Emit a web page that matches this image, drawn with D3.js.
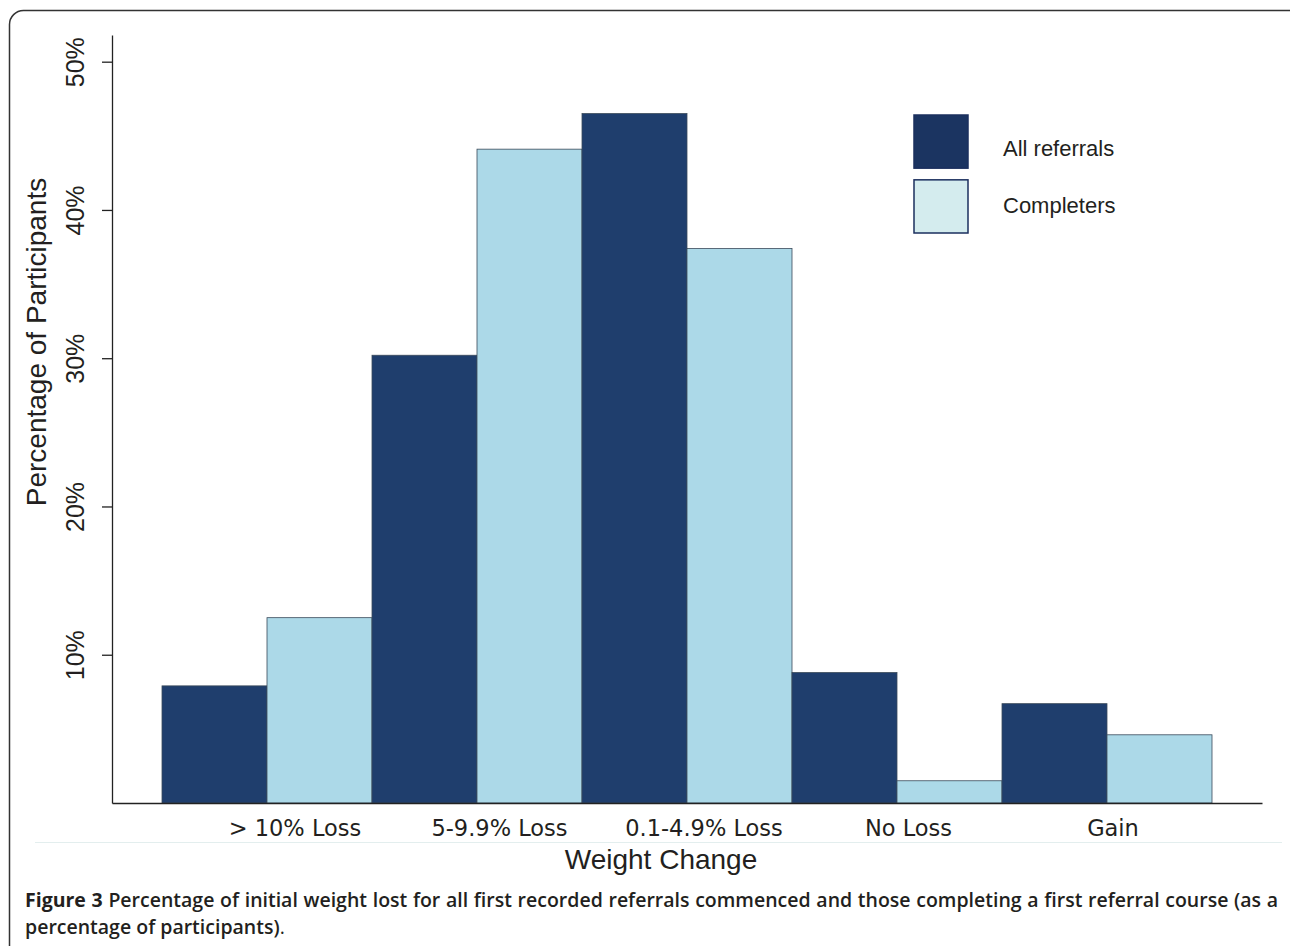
<!DOCTYPE html>
<html>
<head>
<meta charset="utf-8">
<script src="https://cdn.jsdelivr.net/npm/d3@7/dist/d3.min.js"></script>
<style>
  html, body { margin: 0; padding: 0; background: #fff; }
  svg { display: block; }
</style>
</head>
<body>
<svg id="chart" width="1290" height="946"></svg>
<script>
// ---- data ----
const categories = ["> 10% Loss", "5-9.9% Loss", "0.1-4.9% Loss", "No Loss", "Gain"];
const seriesNames = ["All referrals", "Completers"];
const allReferrals = [7.9, 30.2, 46.5, 8.8, 6.7];
const completers = [12.5, 44.1, 37.4, 1.5, 4.6];
const yTickValues = [10, 20, 30, 40, 50];
const yTickLabels = ["10%", "20%", "30%", "40%", "50%"];
const yTitle = "Percentage of Participants";
const xTitle = "Weight Change";
const captionBold = "Figure 3";
const captionLine1 = " Percentage of initial weight lost for all first recorded referrals commenced and those completing a first referral course (as a";
const captionLine2 = "percentage of participants)";

const svg = d3.select("#chart");
const textColor = "#231f20";
const darkFill = "#1f3e6d";
const lightFill = "#acd9e8";

// frame
svg.append("rect")
  .attr("x", 9.5).attr("y", 10.5).attr("width", 1300).attr("height", 960)
  .attr("rx", 14).attr("ry", 14)
  .attr("fill", "none").attr("stroke", "#333").attr("stroke-width", 1.5);

// scales
const x = d3.scaleBand().domain(categories).range([112, 1262])
  .paddingInner(0).paddingOuter((1150 / 210 - 5) / 2);
const xs = d3.scaleBand().domain(seriesNames).range([0, x.bandwidth()]);
const y = d3.scaleLinear().domain([0, 51.8]).range([803, 35]);
const xLabel = d3.scalePoint().domain(categories).range([295, 1113]);
const color = d3.scaleOrdinal().domain(seriesNames).range([darkFill, lightFill]);

const rows = categories.map((c, i) => ({ cat: c, vals: [
  { s: seriesNames[0], v: allReferrals[i] },
  { s: seriesNames[1], v: completers[i] }
]}));

// bars
const g = svg.append("g");
g.selectAll("g.grp").data(rows).join("g")
  .attr("class", "grp")
  .attr("transform", d => `translate(${x(d.cat)},0)`)
  .selectAll("rect").data(d => d.vals).join("rect")
  .attr("x", d => xs(d.s))
  .attr("y", d => y(d.v))
  .attr("width", xs.bandwidth())
  .attr("height", d => y(0) - y(d.v))
  .attr("fill", d => color(d.s))
  .attr("stroke", "#3a4a5a").attr("stroke-width", 0.8);

// y axis
const yAxis = d3.axisLeft(y).tickValues(yTickValues)
  .tickFormat((d, i) => yTickLabels[i]).tickSize(10).tickSizeOuter(0);
const ya = svg.append("g").attr("transform", "translate(112,0)").call(yAxis);
ya.select(".domain").attr("stroke", "#222").attr("stroke-width", 1.3);
ya.selectAll(".tick line").attr("stroke", "#222").attr("stroke-width", 1.3);
ya.selectAll(".tick text")
  .attr("font-family", "Liberation Sans, Arial, sans-serif")
  .attr("font-size", 25).attr("fill", textColor)
  .attr("text-anchor", "middle")
  .attr("transform", "translate(-37,0) rotate(-90)")
  .attr("x", 0).attr("y", 0).attr("dy", "0.35em");

// x axis baseline
const xa = svg.append("g").attr("transform", `translate(0,${y(0)})`)
  .call(d3.axisBottom(x).tickSize(0).tickFormat(""));
xa.select(".domain").attr("stroke", "#222").attr("stroke-width", 1.3);

// x tick labels
svg.append("g").selectAll("text").data(categories).join("text")
  .attr("x", d => xLabel(d)).attr("y", 836)
  .attr("text-anchor", "middle")
  .attr("font-family", "DejaVu Sans, Verdana, sans-serif")
  .attr("font-size", 22.5).attr("fill", textColor)
  .text(d => d);

// faint separator line
svg.append("line").attr("x1", 35).attr("x2", 1282).attr("y1", 842.5).attr("y2", 842.5)
  .attr("stroke", "#e3eeee").attr("stroke-width", 1);

// axis titles
svg.append("text").attr("x", 661).attr("y", 869).attr("text-anchor", "middle")
  .attr("font-family", "Liberation Sans, Arial, sans-serif").attr("font-size", 28)
  .attr("fill", textColor).text(xTitle);
svg.append("text").attr("transform", "translate(46,342) rotate(-90)")
  .attr("text-anchor", "middle")
  .attr("font-family", "Liberation Sans, Arial, sans-serif").attr("font-size", 28)
  .attr("fill", textColor).text(yTitle);

// legend
const leg = svg.append("g");
const legY = d3.scaleBand().domain(seriesNames).range([115, 233]).paddingInner(0.18);
const legTextY = d3.scalePoint().domain(seriesNames).range([148, 205]);
leg.selectAll("rect").data(seriesNames).join("rect")
  .attr("x", 914).attr("y", d => legY(d)).attr("width", 54).attr("height", legY.bandwidth())
  .attr("fill", (d, i) => i === 0 ? "#1b3461" : "#d4ecee")
  .attr("stroke", "#1b2f5e").attr("stroke-width", 1.5);
leg.selectAll("text").data(seriesNames).join("text")
  .attr("x", 1003).attr("y", d => legTextY(d))
  .attr("dy", "0.35em")
  .attr("font-family", "Liberation Sans, Arial, sans-serif").attr("font-size", 22)
  .attr("fill", textColor).text(d => d);

// caption
const capFont = "Open Sans, Noto Sans, sans-serif";
const cap1 = svg.append("text").attr("x", 25).attr("y", 907)
  .attr("font-family", capFont).attr("font-size", 19.5).attr("fill", textColor)
  .attr("font-weight", 600);
cap1.append("tspan").attr("font-weight", 700).text(captionBold);
cap1.append("tspan").text(captionLine1);
const natural = cap1.node().getComputedTextLength();
const nSpaces = (captionBold + captionLine1).split(" ").length - 1;
cap1.attr("word-spacing", Math.max(0, (1278 - 25 - natural) / nSpaces));

const cap2 = svg.append("text").attr("x", 25).attr("y", 934)
  .attr("font-family", capFont).attr("font-size", 19.5).attr("fill", textColor)
  .attr("font-weight", 600);
cap2.append("tspan").text(captionLine2);
cap2.append("tspan").attr("font-weight", 400).text(".");
</script>
</body>
</html>
